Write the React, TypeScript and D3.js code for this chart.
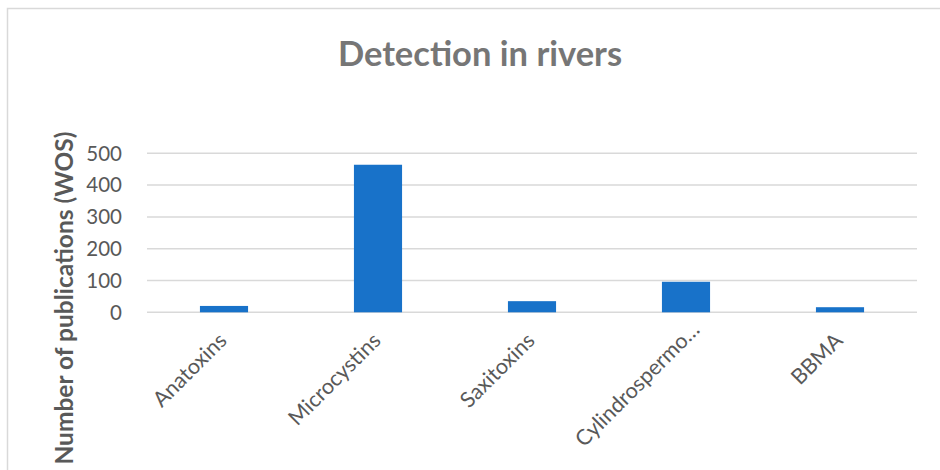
import React from "react";
import * as d3 from "d3";

const categories = ["Anatoxins", "Microcystins", "Saxitoxins", "Cylindrospermo…", "BBMA"];
const values = [20, 464, 35, 96, 16];
const yTicks = [0, 100, 200, 300, 400, 500];
const title = "Detection in rivers";
const yLabel = "Number of publications (WOS)";

export default function App() {
  const W = 940, H = 470;
  const x0 = 147, x1 = 917;
  const x = d3.scaleBand<string>().domain(categories).range([x0, x1]).paddingInner(0.6875).paddingOuter(0.34375);
  const xc = d3.scaleBand<string>().domain(categories).range([x0, x1]);
  const y = d3.scaleLinear().domain([0, 500]).range([312.3, 153.3]);
  const font = "Lato, 'Open Sans', sans-serif";
  return (
    <div style={{ position: "fixed", left: 0, top: 0 }}>
      <svg width={W} height={H} style={{ display: "block", background: "#fff" }}>
        <rect x={7.5} y={8.5} width={W + 20} height={H + 20} fill="#fff" stroke="#d9d9d9" strokeWidth={1.5} />
        <text x={480} y={66} textAnchor="middle" fontFamily={font} fontWeight={700} fontSize={34.5} fill="#767676">
          {title}
        </text>
        {yTicks.map((t) => (
          <g key={t}>
            <line x1={x0} x2={x1} y1={y(t)} y2={y(t)} stroke="#d9d9d9" strokeWidth={1.5} />
            <text x={122} y={y(t)} dy="0.36em" textAnchor="end" fontFamily={font} fontSize={20.5} fill="#595959">
              {t}
            </text>
          </g>
        ))}
        {categories.map((c, i) => (
          <rect key={c} x={x(c)!} width={x.bandwidth()} y={y(values[i])} height={y(0) - y(values[i])} fill="#1872c9" />
        ))}
        {categories.map((c) => {
          const shift = c.endsWith("…") ? 11 : 0;
          const cx = xc(c)! + xc.bandwidth() / 2 + 4 + shift;
          const cy = 342 - shift;
          return (
            <text key={c} x={cx} y={cy} textAnchor="end" fontFamily={font} fontSize={21.5} fill="#595959"
              transform={`rotate(-45 ${cx} ${cy})`}>
              {c}
            </text>
          );
        })}
        <text x={0} y={0} textAnchor="middle" fontFamily={font} fontWeight={700} fontSize={24.5} fill="#595959"
          transform={`translate(73 298) rotate(-90)`}>
          {yLabel}
        </text>
      </svg>
    </div>
  );
}
